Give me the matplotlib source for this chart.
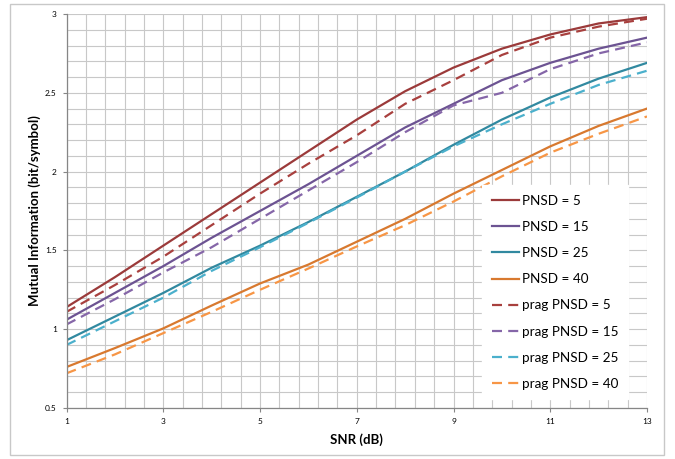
import numpy as np
import matplotlib
matplotlib.use("Agg")
import matplotlib.pyplot as plt
from matplotlib.patches import Rectangle

plt.rcParams["font.family"] = ["Lato", "DejaVu Sans"]

snr = [1, 2, 3, 4, 5, 6, 7, 8, 9, 10, 11, 12, 13]

pnsd5 = [1.14, 1.33, 1.53, 1.73, 1.93, 2.13, 2.33, 2.51, 2.66, 2.78, 2.87, 2.94, 2.98]
pnsd15 = [1.06, 1.23, 1.40, 1.58, 1.75, 1.92, 2.10, 2.28, 2.43, 2.58, 2.69, 2.78, 2.85]
pnsd25 = [0.93, 1.08, 1.23, 1.39, 1.53, 1.68, 1.84, 2.00, 2.17, 2.33, 2.47, 2.59, 2.69]
pnsd40 = [0.76, 0.88, 1.005, 1.15, 1.29, 1.41, 1.555, 1.70, 1.86, 2.01, 2.16, 2.29, 2.40]

prag5 = [1.11, 1.28, 1.46, 1.66, 1.86, 2.05, 2.23, 2.43, 2.58, 2.74, 2.85, 2.92, 2.97]
prag15 = [1.03, 1.19, 1.36, 1.52, 1.70, 1.88, 2.06, 2.25, 2.42, 2.50, 2.65, 2.75, 2.82]
prag25 = [0.90, 1.05, 1.20, 1.37, 1.52, 1.675, 1.835, 2.00, 2.16, 2.30, 2.43, 2.55, 2.64]
prag40 = [0.72, 0.84, 0.975, 1.11, 1.25, 1.385, 1.525, 1.66, 1.81, 1.97, 2.12, 2.24, 2.35]

solid = [
    ("PNSD = 5", pnsd5, "#9B3A3A"),
    ("PNSD = 15", pnsd15, "#6C5392"),
    ("PNSD = 25", pnsd25, "#3189A0"),
    ("PNSD = 40", pnsd40, "#D8792F"),
]
dashed = [
    ("prag PNSD = 5", prag5, "#A8403E"),
    ("prag PNSD = 15", prag15, "#8566A8"),
    ("prag PNSD = 25", prag25, "#4BB0CC"),
    ("prag PNSD = 40", prag40, "#F79646"),
]

fig = plt.figure(figsize=(6.75, 4.59), dpi=100)
fig.patch.set_facecolor("white")
fig.patches.append(Rectangle((9.5 / 675, 4 / 459), 654 / 675, 451 / 459,
                             transform=fig.transFigure, fill=False,
                             edgecolor="#C8C8C8", linewidth=1.0))

ax = fig.add_axes([66.5 / 675, 1 - 408 / 459, 580.5 / 675, 394 / 459])

for label, vals, c in solid:
    ax.plot(snr, vals, color=c, linewidth=1.6, label=label)
for label, vals, c in dashed:
    ax.plot(snr, vals, color=c, linewidth=1.6, linestyle=(0, (4.5, 2.8)), label=label)

ax.set_xlim(1, 13)
ax.set_ylim(0.5, 3)
ax.set_xticks([1, 3, 5, 7, 9, 11, 13])
ax.set_yticks([0.5, 1, 1.5, 2, 2.5, 3])
ax.set_yticklabels(["0.5", "1", "1.5", "2", "2.5", "3"])
ax.set_xticks(np.arange(1, 13.01, 0.4), minor=True)
ax.set_yticks(np.arange(0.5, 3.01, 0.1), minor=True)
ax.grid(True, which="both", color="#C8C8C8", linewidth=0.8)
ax.tick_params(which="minor", length=0)
ax.tick_params(which="major", length=3, width=0.8, color="#868686",
               labelsize=6, pad=4)
ax.set_axisbelow(True)

for side in ("top", "right"):
    ax.spines[side].set_visible(False)
for side in ("left", "bottom"):
    ax.spines[side].set_color("#868686")
    ax.spines[side].set_linewidth(0.9)

ax.set_xlabel("SNR (dB)", fontsize=9.5, fontweight="bold", labelpad=6)
ax.set_ylabel("Mutual Information (bit/symbol)", fontsize=9.5,
              fontweight="bold", labelpad=3)

leg = ax.legend(loc="lower right", bbox_to_anchor=(0.967, 0.022), frameon=True,
                fontsize=9.7, handlelength=2.0, labelspacing=1.05,
                handletextpad=0.25, borderpad=0.7, borderaxespad=0,
                fancybox=False)
leg.get_frame().set_facecolor("white")
leg.get_frame().set_edgecolor("white")
leg.get_frame().set_alpha(1)

fig.savefig("out.png", dpi=100, facecolor="white")
